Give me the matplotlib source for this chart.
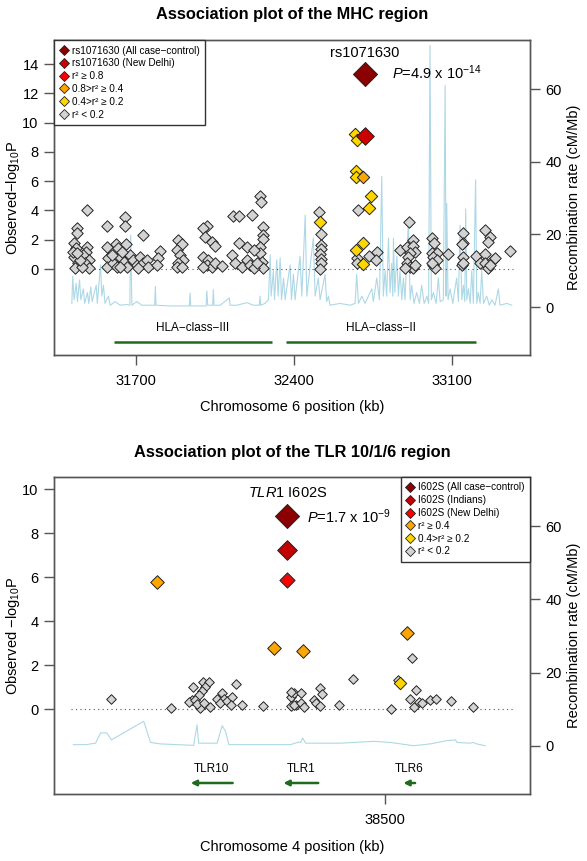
import matplotlib
matplotlib.use('Agg')
import matplotlib.pyplot as plt
from matplotlib.lines import Line2D

plt.rcParams['font.family'] = ['Liberation Sans', 'DejaVu Sans']
plt.rcParams['mathtext.fontset'] = 'custom'
plt.rcParams['mathtext.rm'] = 'Liberation Sans'
plt.rcParams['mathtext.it'] = 'Liberation Sans:italic'
plt.rcParams['mathtext.bf'] = 'Liberation Sans:bold'

# ---------------- MHC region data (kb, -log10 P) ----------------
mhc_grey_pos = [31483, 31439, 31439, 31427, 31436, 31427, 31446, 31431, 31483, 31480, 31468, 31491, 31476,
                31491, 31461, 31454, 31424, 31442,
                31572, 31653, 31653, 31734, 31572, 31613, 31623, 31657, 31579, 31572, 31601, 31616, 31631,
                31646, 31660, 31675, 31690, 31705, 31719, 31734, 31749, 31756, 31712, 31631, 31594, 31638,
                31808, 31801, 31793, 31889, 31904, 31882, 31897, 31911, 31889, 31882, 31904,
                32015, 32000, 32007, 32037, 32052, 32000, 32022, 32015, 32037, 32052, 32081, 32000,
                32133, 32158, 32217, 32251, 32256, 32262, 32262, 32266, 32251, 32251, 32259, 32266, 32158,
                32192, 32222, 32126, 32140, 32170, 32192, 32207, 32222, 32236,
                32512, 32520, 32520, 32520, 32517, 32520, 32520, 32517,
                32684, 32682, 32679, 32735, 32768, 32765,
                32911, 32871, 32901, 32930, 32930, 32938, 32915, 32908, 32901, 32915, 32930, 32893, 32938,
                33012, 33022, 33012, 33034, 33019, 33034, 33016, 33026, 33082, 33012,
                33152, 33149, 33145, 33149, 33145, 33152,
                33206, 33248, 33270, 33263, 33248, 33226, 33248, 33263, 33282, 33292, 33270, 33359]
mhc_grey_logp = [4.03, 2.82, 2.44, 1.75, 1.41, 0.84, 0.39, 0.05, 1.53, 1.18, 0.96, 0.62, 0.39,
                 0.05, 0.16, 0.62, 1.18, 1.07,
                 2.96, 3.53, 2.96, 2.32, 1.53, 1.71, 1.41, 1.71, 0.73, 0.16, 0.39, 0.16, 0.84,
                 0.50, 0.16, 0.96, 0.62, 0.27, 0.84, 0.39, 0.62, 0.16, 0.05, 0.16, 0.96, 1.18,
                 1.25, 0.73, 0.27, 1.98, 1.71, 1.30, 0.96, 0.62, 0.39, 0.16, 0.16,
                 2.94, 2.78, 2.21, 1.87, 1.57, 0.84, 0.62, 0.27, 0.16, 0.39, 0.23, 0.16,
                 3.62, 3.62, 3.69, 5.01, 4.60, 2.89, 2.32, 2.03, 1.53, 1.07, 0.50, 0.05, 1.75,
                 1.53, 1.30, 0.96, 0.39, 0.16, 0.62, 0.27, 0.05, 0.39,
                 3.92, 2.37, 1.64, 1.34, 1.03, 0.66, 0.39, 0.00,
                 4.03, 0.73, 0.43, 0.89, 1.18, 0.62,
                 3.23, 1.30, 1.53, 1.98, 1.57, 1.18, 1.07, 0.84, 0.39, 0.16, 0.09, 0.05, 0.27,
                 2.10, 1.75, 1.07, 1.07, 0.84, 0.62, 0.27, 0.05, 1.03, 0.39,
                 2.48, 1.80, 1.71, 0.84, 0.27, 0.39,
                 0.89, 2.67, 2.21, 1.87, 1.03, 0.39, 0.39, 0.05, 0.62, 0.73, 0.27, 1.25]
mhc_yellow_pos = [32517, 32672, 32679, 32675, 32676, 32741, 32734, 32709, 32675, 32709]
mhc_yellow_logp = [3.23, 9.20, 8.82, 6.70, 6.31, 5.01, 4.19, 1.75, 1.30, 0.32]
mhc_orange_pos = [32709]
mhc_orange_logp = [6.31]
mhc_delhi_pos = [32716]
mhc_delhi_logp = [9.07]
mhc_all_pos = [32716]
mhc_all_logp = [13.31]

mhc_rate_pos = [31417, 31421, 31427, 31436, 31442, 31451, 31457, 31468, 31474, 31486, 31492, 31501, 31507,
                31525, 31530, 31539, 31544, 31550, 31557, 31564, 31579, 31587, 31609, 31631, 31660, 31674,
                31678, 31683, 31705, 31727, 31764, 31784, 31787, 31790, 31852, 31938, 31941, 31944, 32012,
                32015, 32019, 32041, 32044, 32047, 32074, 32115, 32118, 32148, 32192, 32222, 32248, 32251,
                32254, 32273, 32288, 32296, 32300, 32310, 32315, 32325, 32331, 32340, 32346, 32355, 32362,
                32384, 32390, 32399, 32406, 32428, 32436, 32451, 32458, 32487, 32495, 32509, 32517, 32539,
                32546, 32554, 32561, 32605, 32650, 32672, 32679, 32687, 32702, 32716, 32746, 32753, 32768,
                32780, 32790, 32797, 32805, 32812, 32820, 32827, 32834, 32839, 32842, 32848, 32857, 32864,
                32871, 32879, 32886, 32893, 32908, 32916, 32923, 32933, 32945, 32957, 32967, 32978, 32990,
                32998, 33004, 33010, 33019, 33031, 33041, 33049, 33063, 33071, 33075, 33078, 33084, 33093,
                33105, 33122, 33130, 33137, 33145, 33152, 33158, 33162, 33167, 33174, 33182, 33189, 33196,
                33206, 33211, 33218, 33226, 33233, 33241, 33255, 33267, 33278, 33292, 33307, 33314, 33344,
                33366]
mhc_rate = [1.0, 8.5, 2, 6.5, 1.5, 7.5, 2, 5, 1, 4, 1, 5.5, 1.5,
            6, 1, 8, 11.6, 3, 6, 1, 3, 0.5, 1.5, 0.5, 0.7, 0.5,
            19.8, 0.5, 1.5, 0.5, 0.5, 0.5, 5.7, 0.5, 0.3, 0.3, 3.9, 0.3, 0.3,
            4.4, 0.5, 0.5, 4.8, 0.5, 0.5, 2.5, 0.5, 0.5, 1.2, 0.5, 0.5, 3.0,
            0.5, 1.0, 2, 14.4, 3, 10, 2, 13, 3, 13.5, 2, 8, 2,
            11.6, 2, 9, 2, 14, 3, 25.3, 3, 19, 3, 8, 2, 9,
            1.5, 3, 0.5, 1, 0.5, 1, 9, 1, 3, 1, 5, 1.5, 8,
            2, 36, 3, 10, 3, 19, 4, 12, 3, 19, 4, 14, 3,
            10, 2, 8, 2, 23.5, 2, 6, 1, 4, 1, 6, 1, 3,
            1, 72, 2, 4, 1, 8, 1.5, 2, 61, 3, 28.5, 2, 5,
            1, 8, 1.5, 22.5, 2, 6, 1.5, 27, 2, 5, 1, 10, 1,
            35, 1, 4, 1, 10, 1, 3, 0.5, 2, 0.5, 5, 0.5, 1,
            0.5]

hla_names = ['HLA\u2212class\u2212III', 'HLA\u2212class\u2212II']
hla_start = [31602, 32366]
hla_end = [32304, 33206]

# ---------------- TLR region data (kb, -log10 P) ----------------
tlr_grey_pos = [38434.7, 38449.0, 38454.2, 38456.6, 38457.9, 38457.1, 38456.3, 38455.5, 38453.9, 38453.2,
                38454.7, 38455.9, 38455.1, 38456.7, 38458.3, 38459.9, 38461.1, 38461.5, 38460.7, 38462.3,
                38463.5, 38464.5, 38463.1, 38465.9, 38470.8, 38477.4, 38478.2, 38477.4, 38478.6,
                38477.4, 38478.2, 38480.0, 38479.8, 38480.6, 38483.0, 38483.4, 38484.5, 38484.9, 38484.4,
                38488.9, 38492.3, 38501.4, 38506.4, 38507.4, 38506.0, 38506.8, 38508.0, 38508.8, 38510.7,
                38512.1, 38515.7, 38520.9, 38503.0]
tlr_grey_logp = [0.47, 0.03, 1.02, 1.24, 1.24, 1.02, 0.83, 0.64, 0.41, 0.33,
                 0.41, 0.03, 0.23, 0.29, 0.11, 0.44, 0.71, 0.48, 0.26, 0.36,
                 0.53, 1.14, 0.18, 0.18, 0.15, 0.56, 0.71, 0.14, 0.18,
                 0.79, 0.18, 0.71, 0.26, 0.08, 0.41, 0.26, 0.94, 0.67, 0.14,
                 0.18, 1.39, 0.00, 2.30, 0.86, 0.48, 0.11, 0.33, 0.26, 0.41,
                 0.45, 0.38, 0.08, 1.32]
tlr_yellow_pos = [38503.6]
tlr_yellow_logp = [1.17]
tlr_orange_pos = [38445.6, 38473.4, 38480.3, 38505.2]
tlr_orange_logp = [5.76, 2.76, 2.64, 3.44]
tlr_delhi_pos = [38476.6]
tlr_delhi_logp = [5.86]
tlr_indian_pos = [38476.6]
tlr_indian_logp = [7.23]
tlr_all_pos = [38476.6]
tlr_all_logp = [8.77]

tlr_rate_pos = [38425.6, 38428.6, 38430.9, 38432.1, 38433.6, 38434.7, 38442.4, 38444.0, 38446.4, 38454.3,
                38455.1, 38455.5, 38459.9, 38461.1, 38461.9, 38462.7, 38470.2, 38477.4, 38479.3, 38479.8,
                38480.3, 38481.0, 38489.3, 38497.2, 38501.2, 38506.8, 38510.7, 38514.7, 38516.7, 38517.1,
                38520.2, 38521.0, 38521.8, 38523.8]
tlr_rate = [0.3, 0.3, 0.7, 3.5, 3.5, 1.6, 6.7, 0.9, 0.5, 0.1,
            5.7, 0.7, 0.7, 5.5, 3.9, 0.3, 0.3, 0.3, 1.0, 0.9,
            2.1, 0.7, 0.7, 1.2, 0.9, 0.0, 0.5, 1.4, 1.6, 0.9,
            0.7, 0.9, 0.5, 0.0]

tlr_genes = ['TLR10', 'TLR1', 'TLR6']
tlr_gene_start = [38463.6, 38484.0, 38507.1]   # arrow tail
tlr_gene_end = [38453.6, 38475.7, 38504.3]     # arrow head

# ---------------- colours ----------------
C_ALL = '#8B0000'
C_IND = '#C40000'
C_DELHI_TOP = '#CC0000'
C_RED = '#FF0000'
C_ORANGE = '#FFA500'
C_YELLOW = '#FFD700'
C_GREY = '#D3D3D3'
C_RATE = '#ADD8E6'
C_GENE = '#1E6B1E'
C_AX = '#555555'

W, H = 587, 861
fig = plt.figure(figsize=(W / 100, H / 100), dpi=100)


def px_axes(l, t, r, b):
    return fig.add_axes([l / W, 1 - b / H, (r - l) / W, (b - t) / H])


def style(ax, ax2):
    for a in (ax, ax2):
        for s in a.spines.values():
            s.set_color(C_AX)
            s.set_linewidth(1.0)
        a.tick_params(direction='out', length=7, width=1.0, color=C_AX, labelsize=10.5, pad=4)
    ax.tick_params(axis='x', pad=7)


def pts(ax, x, y, c, s, z, lw=0.7):
    ax.scatter(x, y, marker='D', s=s, c=c, edgecolors='#222222', linewidths=lw, zorder=z)


def handle(c):
    return Line2D([], [], marker='D', ls='none', markersize=4.8, markerfacecolor=c,
                  markeredgecolor='#222222', markeredgewidth=0.6)


LEG_KW = dict(borderaxespad=0, fontsize=7.2, fancybox=False, framealpha=1, edgecolor='#333333',
              handlelength=0.8, handletextpad=0.4, labelspacing=0.28, borderpad=0.55)

# ============ Top panel ============
ax1 = px_axes(54, 40, 530, 355)
ax1b = ax1.twinx()
ax1.set_zorder(ax1b.get_zorder() + 1)
ax1.patch.set_visible(False)
ax1b.plot(mhc_rate_pos, mhc_rate, color=C_RATE, lw=0.8)
ax1b.set_ylim(-13.2, 73.5)
ax1b.set_yticks([0, 20, 40, 60])

ax1.set_xlim(31338, 33447)
ax1.set_ylim(-5.87, 15.64)
ax1.set_yticks(range(0, 15, 2))
ax1.set_xticks([31700, 32400, 33100])
ax1.plot([min(mhc_rate_pos), max(mhc_rate_pos) + 5], [0, 0], ls=(0, (1, 3)), color='#555555', lw=0.8, zorder=1)
pts(ax1, mhc_grey_pos, mhc_grey_logp, C_GREY, 34, 3)
pts(ax1, mhc_yellow_pos, mhc_yellow_logp, C_YELLOW, 40, 4)
pts(ax1, mhc_orange_pos, mhc_orange_logp, C_ORANGE, 40, 4)
pts(ax1, mhc_delhi_pos, mhc_delhi_logp, C_DELHI_TOP, 80, 5)
pts(ax1, mhc_all_pos, mhc_all_logp, C_ALL, 150, 6)
for name, s, e in zip(hla_names, hla_start, hla_end):
    ax1.plot([s, e], [-5, -5], color=C_GENE, lw=1.8, solid_capstyle='butt')
    ax1.text((s + e) / 2, -4.05, name, ha='center', va='center', fontsize=8.5)
ax1.text(mhc_all_pos[0], 14.75, 'rs1071630', ha='center', va='center', fontsize=10.5)
ax1.text(32836, 13.39, r'$\mathit{P}$=4.9 x 10$^{-14}$', ha='left', va='center', fontsize=10.5)
ax1.set_ylabel(r'Observed$-$log$_{10}$P', fontsize=10.5, labelpad=0)
ax1b.set_ylabel('Recombination rate (cM/Mb)', fontsize=10.5, labelpad=4)
ax1.set_xlabel('Chromosome 6 position (kb)', fontsize=10.5, labelpad=8)
ax1.text(0.5, 1 + 25 / 315, 'Association plot of the MHC region', transform=ax1.transAxes,
         ha='center', va='center', fontsize=11.8, fontweight='bold')
style(ax1, ax1b)

leg1 = ax1.legend([handle(C_ALL), handle(C_DELHI_TOP), handle(C_RED), handle(C_ORANGE), handle(C_YELLOW),
                   handle(C_GREY)],
                  ['rs1071630 (All case\u2212control)', 'rs1071630 (New Delhi)', 'r\u00b2 \u2265 0.8',
                   '0.8>r\u00b2 \u2265 0.4', '0.4>r\u00b2 \u2265 0.2', 'r\u00b2 < 0.2'],
                  loc='upper left', **LEG_KW)
leg1.get_frame().set_linewidth(1.0)
leg1.set_zorder(10)

# ============ Bottom panel ============
ax2 = px_axes(54, 477, 530, 794)
ax2b = ax2.twinx()
ax2.set_zorder(ax2b.get_zorder() + 1)
ax2.patch.set_visible(False)
ax2b.plot(tlr_rate_pos, tlr_rate, color=C_RATE, lw=0.8)
ax2b.set_ylim(-13.2, 73.5)
ax2b.set_yticks([0, 20, 40, 60])

ax2.set_xlim(38421, 38534.5)
ax2.set_ylim(-3.86, 10.55)
ax2.set_yticks(range(0, 11, 2))
ax2.set_xticks([38500])
ax2.plot([38425, 38530.5], [0, 0], ls=(0, (1, 3)), color='#555555', lw=0.8, zorder=1)
pts(ax2, tlr_grey_pos, tlr_grey_logp, C_GREY, 24, 3)
pts(ax2, tlr_yellow_pos, tlr_yellow_logp, C_YELLOW, 40, 4)
pts(ax2, tlr_orange_pos, tlr_orange_logp, C_ORANGE, 48, 4)
pts(ax2, tlr_delhi_pos, tlr_delhi_logp, C_RED, 60, 5)
pts(ax2, tlr_indian_pos, tlr_indian_logp, C_IND, 100, 5)
pts(ax2, tlr_all_pos, tlr_all_logp, C_ALL, 150, 6)
for name, s, e in zip(tlr_genes, tlr_gene_start, tlr_gene_end):
    ax2.annotate('', xy=(e, -3.36), xytext=(s, -3.36),
                 arrowprops=dict(arrowstyle='-|>', color=C_GENE, lw=1.8, mutation_scale=8,
                                 shrinkA=0, shrinkB=0))
    ax2.text((s + e) / 2, -2.73, name, ha='center', va='center', fontsize=8.5)
ax2.text(38476.7, 9.82, r'$\mathit{TLR}$1 I602S', ha='center', va='center', fontsize=10.5)
ax2.text(38481.4, 8.73, r'$\mathit{P}$=1.7 x 10$^{-9}$', ha='left', va='center', fontsize=10.5)
ax2.set_ylabel(r'Observed $-$log$_{10}$P', fontsize=10.5, labelpad=0)
ax2b.set_ylabel('Recombination rate (cM/Mb)', fontsize=10.5, labelpad=4)
ax2.set_xlabel('Chromosome 4 position (kb)', fontsize=10.5, labelpad=9)
ax2.text(0.5, 1 + 25 / 317, 'Association plot of the TLR 10/1/6 region', transform=ax2.transAxes,
         ha='center', va='center', fontsize=11.8, fontweight='bold')
style(ax2, ax2b)

leg2 = ax2.legend([handle(C_ALL), handle(C_IND), handle(C_RED), handle(C_ORANGE), handle(C_YELLOW),
                   handle(C_GREY)],
                  ['I602S (All case\u2212control)', 'I602S (Indians)', 'I602S (New Delhi)',
                   'r\u00b2 \u2265 0.4', '0.4>r\u00b2 \u2265 0.2', 'r\u00b2 < 0.2'],
                  loc='upper right', **LEG_KW)
leg2.get_frame().set_linewidth(1.0)
leg2.set_zorder(10)

fig.savefig('out.png', dpi=100)
